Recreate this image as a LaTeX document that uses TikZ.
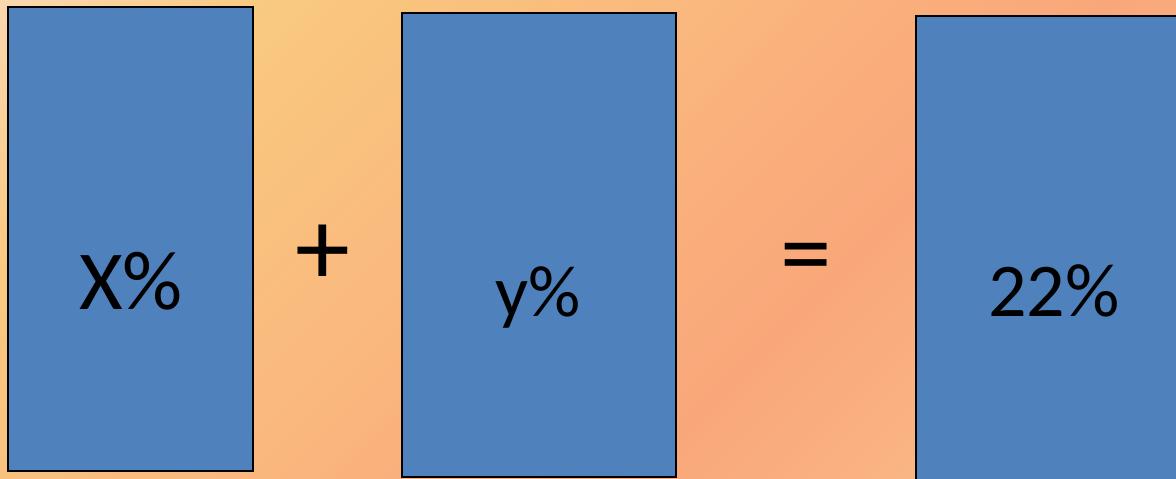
\documentclass[tikz,border=0pt]{standalone}
\usepackage{fontspec}
\setmainfont{Carlito}
\definecolor{c0}{HTML}{F9D7B0}
\definecolor{c1}{HTML}{F9CA82}
\definecolor{c2}{HTML}{F9C37E}
\definecolor{c3}{HTML}{FAB97E}
\definecolor{c4}{HTML}{FAAF7C}
\definecolor{c5}{HTML}{F9A77A}
\definecolor{c6}{HTML}{FAB585}
\definecolor{c7}{HTML}{FBC292}
\definecolor{boxblue}{HTML}{4F81BD}
\begin{document}
\begin{tikzpicture}[x=1pt,y=-1pt,
  box/.style={draw=black,line width=2pt,fill=boxblue,inner sep=0pt},
  lbl/.style={inner sep=0pt,anchor=base,text=black},
  op/.style={inner sep=0pt,text=black}]
\useasboundingbox (0,0) rectangle (1176,479);
\clip (0,0) rectangle (1176,479);
\foreach \sa/\sb/\ca/\cb in {0/255/c0/c1,255/424/c1/c2,424/679/c2/c3,679/891/c3/c4,891/1113/c4/c5,1113/1386/c5/c6,1386/1660/c6/c7}{
  \foreach \i in {0,...,39}{
    \pgfmathsetmacro\s{\sa+(\sb-\sa)*\i/40}
    \pgfmathsetmacro\e{\sa+(\sb-\sa)*(\i+1)/40+1}
    \pgfmathtruncatemacro\p{(2*\i+1)*100/80}
    \fill[\cb!\p!\ca] (\s+10,-10) -- (\s-490,490) -- (\e-490,490) -- (\e+10,-10) -- cycle;
  }
}
\node[box, minimum width=245pt, minimum height=464pt] (r1) at (130.5,239) {};
\node[box, minimum width=274pt, minimum height=464pt] (r2) at (539,245) {};
\node[box, minimum width=274pt, minimum height=464pt] (r3) at (1053,248) {};
\node[lbl, font=\fontsize{84}{84}\selectfont] (tx) at (131,309) {X\%};
\node[lbl, font=\fontsize{73}{73}\selectfont] (ty) at (538,316) {y\%};
\node[lbl, font=\fontsize{76}{76}\selectfont] (tz) at (1054,316) {22\%};
\node[op, font=\fontsize{110}{110}\selectfont] (plus) at (323,255) {+};
\node[op, font=\fontsize{103}{103}\selectfont] (eq) at (806.5,265) {=};
\end{tikzpicture}
\end{document}
